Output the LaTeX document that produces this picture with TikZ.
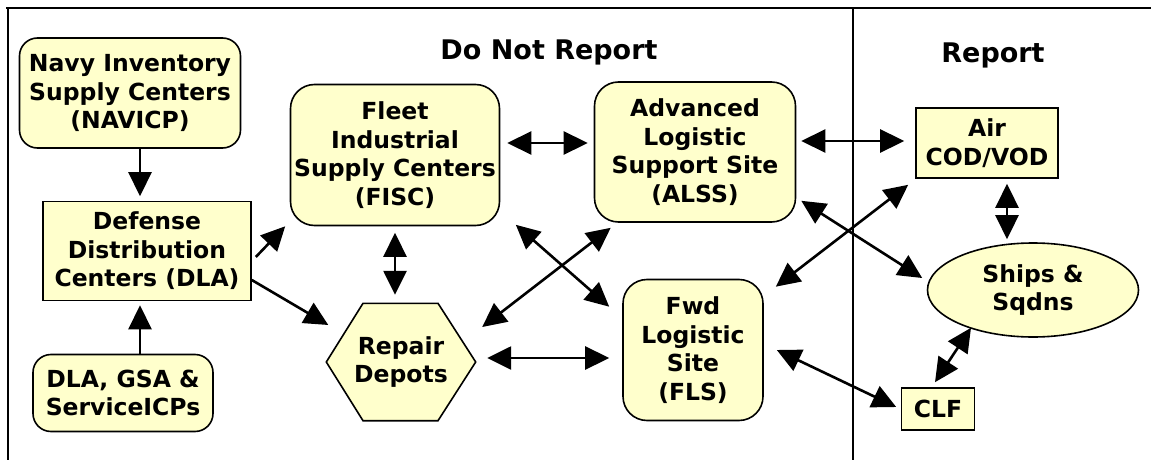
\documentclass[tikz,border=0pt]{standalone}
\usepackage{fontspec}
\setsansfont{DejaVu Sans}
\usetikzlibrary{arrows.meta,shapes.geometric}
\definecolor{boxfill}{RGB}{255,255,204}

\begin{document}
\begin{tikzpicture}[
    x=1pt, y=-1pt,
    box/.style={draw=black, line width=1.6pt, fill=boxfill, inner sep=0pt,
        align=center, font=\sffamily\bfseries\fontsize{23.5}{28.5}\selectfont},
    roundbox/.style={box, rounded corners=18pt},
    label/.style={align=center, font=\sffamily\bfseries\fontsize{23.5}{28.5}\selectfont},
    title/.style={font=\sffamily\bfseries\fontsize{27}{30}\selectfont},
    oneway/.style={line width=2.6pt, -{Triangle[length=24pt,width=23pt]}},
    twoway/.style={line width=2.6pt,
        {Triangle[length=24pt,width=23pt]}-{Triangle[length=24pt,width=23pt]}},
    frame/.style={line width=2.4pt}
]
    \useasboundingbox (0,0) rectangle (1151,460);
    \draw[frame] (6,8) -- (1151,8);
    \draw[frame] (8,8) -- (8,460);
    \draw[frame] (853,8) -- (853,460);

    \node[title] (dnr) at (549,52) {Do Not Report};
    \node[title] (rep) at (993,55) {Report};

    \node[roundbox, minimum width=221pt, minimum height=110pt] (navicp) at (130,93) {Navy Inventory\\Supply Centers\\(NAVICP)};
    \node[box, minimum width=208pt, minimum height=99pt] (ddc) at (147,251) {Defense\\Distribution\\Centers (DLA)};
    \node[roundbox, minimum width=180pt, minimum height=77pt] (dla) at (123,393) {DLA, GSA \&\\ServiceICPs};
    \node[roundbox, rounded corners=24pt, minimum width=209pt, minimum height=141pt] (fisc) at (395,155) {Fleet\\Industrial\\Supply Centers\\(FISC)};
    \node[roundbox, rounded corners=24pt, minimum width=201pt, minimum height=140pt] (alss) at (695,152) {Advanced\\Logistic\\Support Site\\(ALSS)};
    \node[roundbox, rounded corners=24pt, minimum width=140pt, minimum height=141pt] (fls) at (693,350) {Fwd\\Logistic\\Site\\(FLS)};
    \node[box, minimum width=142pt, minimum height=70pt] (air) at (987,143) {Air\\COD/VOD};
    \node[box, ellipse, minimum width=211pt, minimum height=94pt] (ships) at (1033,290) {Ships \&\\Sqdns};
    \node[box, minimum width=73pt, minimum height=42pt] (clf) at (938,409) {CLF};

    \node[minimum width=149pt, minimum height=117pt, inner sep=0pt] (repair) at (401,362) {};
    \draw[box] (repair.west) -- ([xshift=-38pt]repair.north) -- ([xshift=37pt]repair.north)
        -- (repair.east) -- ([xshift=37pt]repair.south) -- ([xshift=-38pt]repair.south) -- cycle;
    \node[label] (repairtext) at (repair) {Repair\\Depots};

    \draw[oneway, shorten >=4.5pt] ([xshift=10pt]navicp.south) -- ([xshift=-7pt]ddc.north);
    \draw[oneway, shorten >=4pt] ([xshift=17pt]dla.north) -- ([xshift=-7pt]ddc.south);
    \draw[oneway] ([xshift=4pt,yshift=-6pt]ddc.east) -- ([xshift=-4.5pt]fisc.south west);
    \draw[oneway] ([yshift=-29pt]ddc.east) -- ([xshift=2pt,yshift=37pt]repair.west);
    \draw[twoway, shorten <=7pt, shorten >=6pt] ([yshift=12pt]fisc.east) -- ([yshift=12pt]fisc.east -| alss.west);
    \draw[twoway, shorten <=5pt, shorten >=11pt] ([yshift=11pt]alss.east) -- ([yshift=11pt]alss.east -| air.west);
    \draw[twoway, shorten <=6.5pt, shorten >=8.5pt] (fisc.south) -- (fisc.south |- repair.north);
    \draw[twoway] ([xshift=15.5pt,yshift=1.5pt]fisc.south east) -- ([xshift=-13pt,yshift=-28pt]fls.north west);
    \draw[twoway] ([xshift=6.5pt,yshift=35pt]repair.east) -- ([xshift=17pt,yshift=-5pt]alss.south west);
    \draw[twoway, shorten >=13pt] ([xshift=11.5pt,yshift=4pt]repair.east) -- ([yshift=4pt]repair.east -| fls.west);
    \draw[twoway] ([xshift=5pt,yshift=22pt]alss.south east) -- ([xshift=-4.5pt,yshift=12pt]ships.west);
    \draw[twoway] ([xshift=12pt,yshift=-8pt]fls.north east) -- ([xshift=-7pt,yshift=-6pt]air.south west);
    \draw[twoway] ([xshift=13pt]fls.east) -- ([xshift=-4.5pt,yshift=2pt]clf.west);
    \draw[twoway, shorten <=5pt, shorten >=3pt] ([xshift=20pt]air.south) -- ([xshift=20pt]air.south |- ships.north);
    \draw[twoway] ([xshift=-62pt,yshift=10pt]ships.south) -- ([xshift=-3pt,yshift=5pt]clf.north);
\end{tikzpicture}
\end{document}
